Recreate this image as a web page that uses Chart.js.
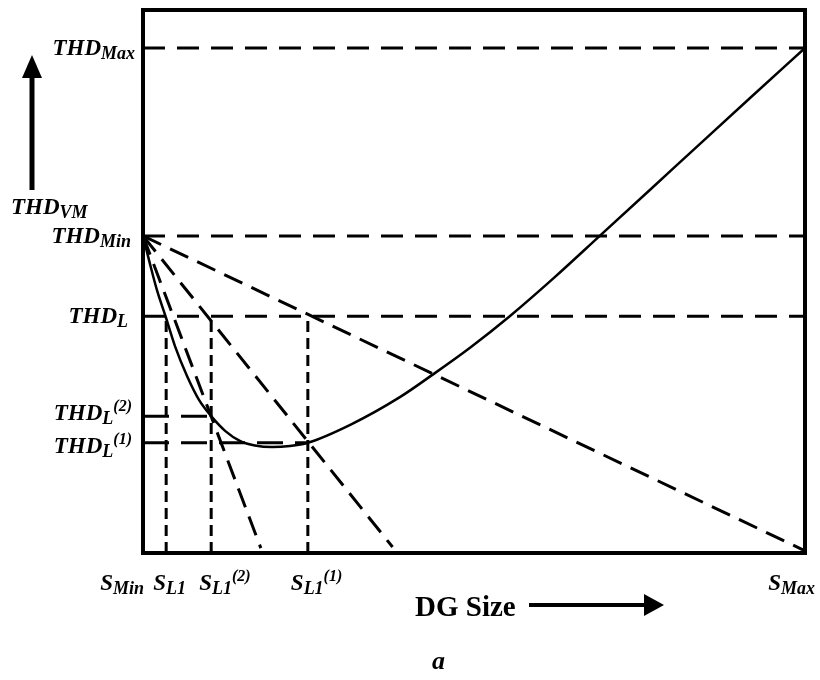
<!DOCTYPE html>
<html lang="en">
<head>
    <meta charset="UTF-8">
    <title>THD vs DG Size</title>
    <script src="https://cdn.jsdelivr.net/npm/chart.js"></script>
    <style>
        body { margin: 0; background: #fff; }
        #wrap { width: 820px; height: 680px; }
    </style>
</head>
<body>
    <div id="wrap">
        <canvas id="thdChart" width="820" height="680"></canvas>
    </div>

    <script>
        // DG size marks on the horizontal axis: S_Min, S_L1, S_L1(2), S_L1(1), S_Max
        const sizeTicks = [0, 3.5, 10.3, 24.9, 100];
        const sizeSub = ['Min', 'L1', 'L1', 'L1', 'Max'];
        const sizeSup = ['', '', '(2)', '(1)', ''];

        // THD levels: Max, Min, L, L(2), L(1)
        const thdTicks = [93.0, 58.4, 43.6, 25.2, 20.3];
        const thdSub = ['Max', 'Min', 'L', 'L', 'L'];
        const thdSup = ['', '', '', '(2)', '(1)'];

        // THD of voltage magnitude against DG size
        const curveSize = [0, 1.06, 2.11, 3.4, 4.83, 6.65, 8.46, 10.3, 12.4, 14.7, 16.9, 19.5, 22.2, 24.9, 31.3, 38.8, 43.7, 49.4, 55.4, 62.2, 69.0, 76.6, 84.1, 91.7, 100];
        const curveThd  = [58.4, 53.2, 48.4, 43.6, 38.1, 32.6, 28.2, 25.2, 22.5, 20.6, 19.8, 19.5, 19.7, 20.3, 23.6, 28.7, 32.8, 37.8, 43.6, 50.8, 58.4, 66.9, 75.3, 83.8, 93.0];

        // where the three straight lines from (S_Min, THD_Min) run out
        const rayEndSize = [17.8, 37.7, 100];
        const rayEndThd  = [0.9, 1.1, 0.4];

        const BLACK = '#000';

        function seg(x0, y0, x1, y1, dash, width) {
            return {
                data: [{ x: x0, y: y0 }, { x: x1, y: y1 }],
                showLine: true,
                borderColor: BLACK,
                borderWidth: width || 3,
                borderDash: dash,
                pointRadius: 0,
                clip: false
            };
        }

        const datasets = [];

        // solid THD curve
        datasets.push({
            data: curveSize.map((s, i) => ({ x: s, y: curveThd[i] })),
            showLine: true,
            borderColor: BLACK,
            borderWidth: 2.5,
            pointRadius: 0,
            cubicInterpolationMode: 'monotone',
            clip: false
        });

        // full-width levels: Max, Min, L
        for (let i = 0; i < 3; i++) {
            datasets.push(seg(0, thdTicks[i], 100, thdTicks[i], [22, 12]));
        }
        // short levels L(2) and L(1)
        datasets.push(seg(0, thdTicks[3], sizeTicks[2], thdTicks[3], [26, 12]));
        datasets.push(seg(0, thdTicks[4], sizeTicks[3], thdTicks[4], [26, 12]));

        // drops from THD_L down to the size axis
        for (let i = 1; i <= 3; i++) {
            datasets.push(seg(sizeTicks[i], 0, sizeTicks[i], thdTicks[2], [11, 6]));
        }

        // rays from THD_Min
        rayEndSize.forEach((s, i) => {
            datasets.push(seg(0, thdTicks[1], s, rayEndThd[i], [20, 10]));
        });

        function drawLabel(ctx, x, y, main, sub, sup, align, sizes) {
            const [mainPx, subPx, supPx] = sizes;
            const fMain = `bold italic ${mainPx}px "Liberation Serif"`;
            const fSub = `bold italic ${subPx}px "Liberation Serif"`;
            const fSup = `bold italic ${supPx}px "Liberation Serif"`;
            ctx.font = fMain; const wMain = ctx.measureText(main).width;
            ctx.font = fSub; const wSub = ctx.measureText(sub).width;
            ctx.font = fSup; const wSup = sup ? ctx.measureText(sup).width : 0;
            const total = wMain + wSub + wSup;
            let x0 = x;
            if (align === 'right') x0 = x - total;
            if (align === 'center') x0 = x - total / 2;
            ctx.textAlign = 'left';
            ctx.textBaseline = 'alphabetic';
            ctx.font = fMain; ctx.fillText(main, x0, y);
            ctx.font = fSub; ctx.fillText(sub, x0 + wMain, y + 4);
            if (sup) { ctx.font = fSup; ctx.fillText(sup, x0 + wMain + wSub, y - 9); }
        }

        function arrow(ctx, x0, y0, x1, y1, width, headLen, headHalf) {
            const ang = Math.atan2(y1 - y0, x1 - x0);
            const bx = x1 - headLen * Math.cos(ang), by = y1 - headLen * Math.sin(ang);
            ctx.strokeStyle = BLACK;
            ctx.fillStyle = BLACK;
            ctx.lineWidth = width;
            ctx.beginPath(); ctx.moveTo(x0, y0); ctx.lineTo(bx, by); ctx.stroke();
            ctx.beginPath();
            ctx.moveTo(x1, y1);
            ctx.lineTo(bx + headHalf * Math.sin(ang), by - headHalf * Math.cos(ang));
            ctx.lineTo(bx - headHalf * Math.sin(ang), by + headHalf * Math.cos(ang));
            ctx.closePath(); ctx.fill();
        }

        // frame, tick names, axis titles and arrows
        const decorPlugin = {
            id: 'decor',
            afterDatasetsDraw(chart) {
                const { ctx, chartArea: a, scales: { x, y } } = chart;
                ctx.save();
                ctx.strokeStyle = BLACK;
                ctx.lineWidth = 4;
                ctx.setLineDash([]);
                ctx.strokeRect(a.left, a.top, a.right - a.left, a.bottom - a.top);

                ctx.fillStyle = BLACK;
                const sizes = [23, 18, 16];
                const yRight = [135, 131, 128, 132, 132];
                const yShift = [7, 7, 7, 4, 10];
                thdTicks.forEach((v, i) => {
                    drawLabel(ctx, yRight[i], y.getPixelForValue(v) + yShift[i], 'THD', thdSub[i], thdSup[i], 'right', sizes);
                });

                const xShift = [1, -13, -12, -17, 10];
                sizeTicks.forEach((v, i) => {
                    const px = x.getPixelForValue(v) + xShift[i];
                    const align = i === 0 || i === sizeTicks.length - 1 ? 'right' : 'left';
                    drawLabel(ctx, px, 590, 'S', sizeSub[i], sizeSup[i], align, sizes);
                });

                // vertical axis title and arrow
                drawLabel(ctx, 11, 214, 'THD', 'VM', '', 'left', sizes);
                arrow(ctx, 32, 190, 32, 55, 5, 23, 10);

                // horizontal axis title and arrow
                ctx.font = 'bold 29px "Liberation Serif"';
                ctx.textAlign = 'left';
                ctx.fillText('DG Size', 415, 616);
                arrow(ctx, 529, 605, 664, 605, 4, 20, 11);

                ctx.font = 'bold italic 26px "Liberation Serif"';
                ctx.fillText('a', 432, 669);
                ctx.restore();
            }
        };

        new Chart(document.getElementById('thdChart'), {
            type: 'scatter',
            data: { datasets },
            options: {
                responsive: false,
                animation: false,
                devicePixelRatio: 1,
                layout: { padding: { left: 143, right: 15, top: 10, bottom: 127 } },
                plugins: { legend: { display: false }, tooltip: { enabled: false } },
                scales: {
                    x: { type: 'linear', min: 0, max: 100, display: false },
                    y: { type: 'linear', min: 0, max: 100, display: false }
                }
            },
            plugins: [decorPlugin]
        });
    </script>
</body>
</html>
